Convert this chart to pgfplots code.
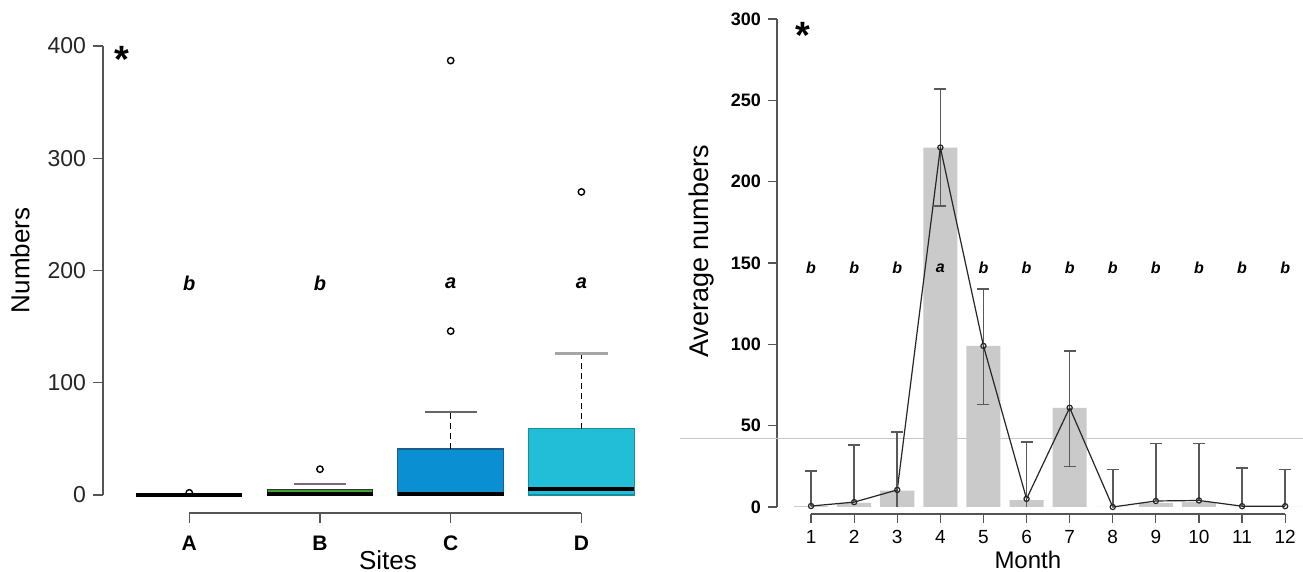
\documentclass[border=0pt]{standalone}
\usepackage{pgfplots}
\pgfplotsset{compat=1.18}
\usepackage{fontspec}
\setmainfont{Liberation Sans}
\definecolor{cB}{HTML}{3DA535}
\definecolor{cC}{HTML}{0A8FD2}
\definecolor{cCd}{HTML}{1B5E8C}
\definecolor{cD}{HTML}{22BDD6}
\definecolor{cDd}{HTML}{1A8CA0}
\definecolor{barg}{HTML}{CACACA}
\definecolor{axg}{HTML}{555555}
\newcommand{\fs}[1]{\fontsize{#1}{#1}\selectfont}
\pgfplotsset{
  outl/.style={only marks, mark=o, mark size=1.6pt, mark options={draw=black, fill=white, solid, line width=0.7pt}},
  wsk/.style={black, line width=0.6pt, dash pattern=on 3pt off 2pt, mark=none},
  med/.style={black, line width=2pt, mark=none},
}
\begin{document}
\begin{tikzpicture}
\useasboundingbox (0,0) rectangle (651.5pt,286pt);
% ---------------- left panel ----------------
\begin{axis}[
  at={(51.5pt,29.5pt)}, anchor=south west,
  scale only axis, width=268.6pt, height=233.5pt,
  xmin=0.34, xmax=4.45, ymin=-16, ymax=400,
  axis x line*=bottom, axis y line*=left,
  axis line style={draw=none},
  clip=false,
  xtick={1,2,3,4}, xticklabels={A,B,C,D},
  ytick={0,100,200,300,400},
  tick align=outside,
  major tick length=5pt,
  tick style={axg, line width=0.6pt},
  /pgf/number format/assume math mode=true,
  x tick label style={font=\bfseries\fs{10.5}, yshift=-3pt},
  y tick label style={font=\fs{11.5}, text=black!85},
]
\draw[axg, line width=0.6pt] (axis cs:0.34,0) -- (axis cs:0.34,400);
\draw[axg, line width=0.6pt] (axis cs:1,-16) -- (axis cs:4,-16);
% A: all quartiles at 0
\addplot[med] coordinates {(0.595,0) (1.405,0)};
\addplot[outl] coordinates {(1,2)};
% B
\addplot[fill=cB, draw=black!80, line width=0.5pt] coordinates {(1.595,0) (2.405,0) (2.405,5) (1.595,5)} -- cycle;
\addplot[med] coordinates {(1.595,0.8) (2.405,0.8)};
\addplot[gray!80!violet, line width=0.9pt] coordinates {(1.8,10) (2.2,10)};
\addplot[outl] coordinates {(2,23)};
% C
\addplot[fill=cC, draw=cCd, line width=0.6pt] coordinates {(2.595,0) (3.405,0) (3.405,41) (2.595,41)} -- cycle;
\addplot[med] coordinates {(2.595,1) (3.405,1)};
\addplot[wsk] coordinates {(3,41) (3,74)};
\addplot[black!60, line width=0.8pt] coordinates {(2.8,74) (3.2,74)};
\addplot[outl] coordinates {(3,146) (3,387)};
% D
\addplot[fill=cD, draw=cDd, line width=0.6pt] coordinates {(3.595,0) (4.405,0) (4.405,59) (3.595,59)} -- cycle;
\addplot[med] coordinates {(3.595,5.5) (4.405,5.5)};
\addplot[wsk] coordinates {(4,59) (4,126)};
\addplot[black!35, line width=1.4pt] coordinates {(3.8,126) (4.2,126)};
\addplot[outl] coordinates {(4,270)};
% letters
\node[font=\bfseries\itshape\fs{10}] at (axis cs:1,189) {b};
\node[font=\bfseries\itshape\fs{10}] at (axis cs:2,189) {b};
\node[font=\bfseries\itshape\fs{10}] at (axis cs:3,189) {a};
\node[font=\bfseries\itshape\fs{10}] at (axis cs:4,189) {a};
\node[font=\bfseries\fs{19}] at (axis cs:0.485,388) {*};
\node[font=\fs{13}] at (axis cs:2.52,-58) {Sites};
\node[font=\fs{13}, rotate=90] at (axis cs:-0.295,209) {Numbers};
\end{axis}
% ---------------- right panel ----------------
\begin{axis}[
  at={(388.5pt,29pt)}, anchor=south west,
  scale only axis, width=262.7pt, height=247.5pt,
  xmin=0.21, xmax=12.4, ymin=-4.3, ymax=300,
  axis x line*=bottom, axis y line*=left,
  axis line style={draw=none},
  clip=false,
  xtick={1,...,12},
  ytick={0,50,100,150,200,250,300},
  tick align=outside,
  major tick length=4.5pt,
  tick style={axg, line width=0.6pt},
  /pgf/number format/assume math mode=true,
  x tick label style={font=\fs{9.5}},
  y tick label style={font=\bfseries\fs{9}},
]
\draw[axg, line width=0.6pt] (axis cs:0.21,0) -- (axis cs:0.21,300);
\draw[axg, line width=0.6pt] (axis cs:1,-4.3) -- (axis cs:12,-4.3);
\draw[black!22, line width=0.6pt] (axis cs:-2.04,42) -- (axis cs:12.41,42);
\addplot[ybar, bar width=0.79, fill=barg, draw=none] coordinates {
 (1,0.5) (2,2.5) (3,10) (4,221) (5,99) (6,4.3) (7,61) (8,0) (9,2.5) (10,3) (11,0) (12,0)};
\addplot[black!65, line width=0.8pt] coordinates {(3,0) (3,10.5)};
\addplot[black!65, line width=0.8pt] coordinates {(6,0) (6,5)};
\addplot[draw=none, mark=none,
  error bars/.cd, y dir=minus, y explicit,
  error bar style={draw=black!65, line width=0.8pt},
  error mark options={draw=black!65, rotate=90, line width=0.8pt, mark size=3pt}]
  table[x=m, y=v, y error minus=e] {
  m v e
  4 221 36
  5 99 36
  7 61 36
};
\addplot[black!85, line width=0.6pt, mark=o, mark size=1.3pt,
  mark options={fill=white, solid, line width=0.6pt},
  error bars/.cd, y dir=plus, y explicit,
  error bar style={draw=black!65, line width=0.8pt},
  error mark options={draw=black!65, rotate=90, line width=0.8pt, mark size=3pt}]
  table[x=m, y=v, y error plus=e] {
  m v e
  1 0.6 21.4
  2 3 35
  3 10.5 35.5
  4 221 36
  5 99 35
  6 5 35
  7 61 35
  8 0 23
  9 3.7 35.3
  10 4 35
  11 0.5 23.5
  12 0.5 22.5
};
\pgfplotsinvokeforeach{1,2,3,5,6,7,8,9,10,11,12}{
  \node[font=\bfseries\itshape\fs{8}] at (axis cs:#1,147) {b};
}
\node[font=\bfseries\itshape\fs{8}] at (axis cs:4,147) {a};
\node[font=\bfseries\fs{19}] at (axis cs:0.81,290) {*};
\node[font=\fs{12}] at (axis cs:6.03,-32.5) {Month};
\node[font=\fs{13.5}, rotate=90] at (axis cs:-1.53,157) {Average numbers};
\end{axis}
\end{tikzpicture}
\end{document}
